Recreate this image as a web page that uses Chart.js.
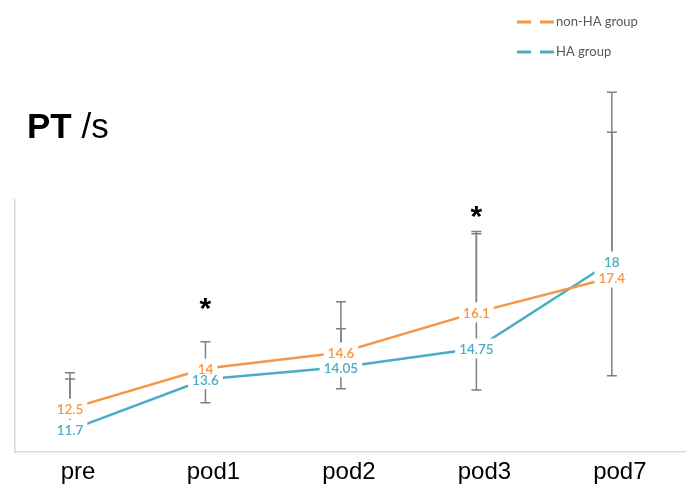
<!DOCTYPE html>
<html>
<head>
<meta charset="utf-8">
<script src="https://cdn.jsdelivr.net/npm/chart.js@4/dist/chart.umd.min.js"></script>
<style>
  html, body { margin: 0; padding: 0; background: #fff; }
  #wrap { width: 688px; height: 495px; }
</style>
</head>
<body>
<div id="wrap"><canvas id="c" width="688" height="495"></canvas></div>
<script>
// Prothrombin time (s) by time point
const categories = ['pre', 'pod1', 'pod2', 'pod3', 'pod7'];
const nonHA = [12.5, 14, 14.6, 16.1, 17.4];
const HA = [11.7, 13.6, 14.05, 14.75, 18];

// Error bar extents above / below each mean
const nonHAErrUp   = [1.34, 1.0, 1.9, 3.02, 5.43];
const nonHAErrDown = [0, 0, 0, 0, 3.67];
const HAErrUp      = [1.91, 0, 1.44, 4.29, 6.33];
const HAErrDown    = [0, 0.88, 0.81, 1.55, 0];

// Significance markers and the level they sit at
const sigMarks  = ['', '*', '', '*', ''];
const sigLevels = [null, 16.42, null, 19.87, null];

const ORANGE = '#F79646';
const BLUE = '#4BACC6';
const BAR_GREY = '#808080';
const LABEL_FONT = '600 13.5px Lato, "Open Sans", sans-serif';

const toPoints = arr => arr.map((v, i) => ({ x: i, y: v }));

// Grey error bars with caps, drawn beneath the lines
const errorBars = {
  id: 'errorBars',
  beforeDatasetsDraw(chart) {
    const { ctx, scales: { x, y } } = chart;
    ctx.save();
    ctx.strokeStyle = BAR_GREY;
    ctx.lineWidth = 1.5;
    chart.data.datasets.forEach(ds => {
      ds.data.forEach((p, i) => {
        const px = x.getPixelForValue(p.x);
        const ends = [];
        if (ds.errUp[i]) ends.push(p.y + ds.errUp[i]);
        if (ds.errDown[i]) ends.push(p.y - ds.errDown[i]);
        ends.forEach(v => {
          const y0 = y.getPixelForValue(p.y);
          const y1 = y.getPixelForValue(v);
          ctx.beginPath();
          ctx.moveTo(px, y0);
          ctx.lineTo(px, y1);
          ctx.moveTo(px - 5, y1);
          ctx.lineTo(px + 5, y1);
          ctx.stroke();
        });
      });
    });
    ctx.restore();
  }
};

// Value labels on white boxes, then significance stars
const valueLabels = {
  id: 'valueLabels',
  afterDatasetsDraw(chart) {
    const { ctx, scales: { x, y } } = chart;
    ctx.save();
    ctx.font = LABEL_FONT;
    ctx.textAlign = 'center';
    ctx.textBaseline = 'middle';
    const items = [];
    chart.data.datasets.forEach((ds, di) => {
      chart.getDatasetMeta(di).data.forEach((el, i) => {
        const txt = String(ds.data[i].y);
        items.push({ txt, x: el.x, y: el.y, color: ds.borderColor, w: ctx.measureText(txt).width });
      });
    });
    ctx.fillStyle = '#fff';
    items.forEach(it => ctx.fillRect(it.x - it.w / 2 - 4, it.y - 10, it.w + 8, 20));
    items.forEach(it => {
      ctx.fillStyle = it.color;
      ctx.fillText(it.txt, it.x, it.y + 1);
    });

    ctx.font = 'bold 30px "Liberation Sans", Arial, sans-serif';
    ctx.fillStyle = '#000';
    ctx.textBaseline = 'alphabetic';
    sigMarks.forEach((m, i) => {
      if (!m) return;
      const mt = ctx.measureText(m);
      const cy = y.getPixelForValue(sigLevels[i]);
      const base = cy + (mt.actualBoundingBoxAscent - mt.actualBoundingBoxDescent) / 2;
      ctx.fillText(m, x.getPixelForValue(i), base);
    });
    ctx.restore();
  }
};

// Title "PT /s" and the dashed-line legend
const decorations = {
  id: 'decorations',
  afterDraw(chart) {
    const { ctx } = chart;
    ctx.save();
    ctx.fillStyle = '#000';
    ctx.textBaseline = 'alphabetic';
    ctx.textAlign = 'left';
    ctx.font = 'bold 35px "Liberation Sans", Arial, sans-serif';
    ctx.fillText('PT', 27, 138);
    const w = ctx.measureText('PT ').width;
    ctx.font = '35px "Liberation Sans", Arial, sans-serif';
    ctx.fillText('/s', 27 + w, 138);

    const entries = chart.data.datasets.map(ds => ({ label: ds.label, color: ds.borderColor }));
    ctx.font = '13px Lato, "Open Sans", sans-serif';
    ctx.textBaseline = 'middle';
    entries.forEach((e, k) => {
      const ly = 22 + k * 30;
      ctx.strokeStyle = e.color;
      ctx.lineWidth = 3;
      ctx.setLineDash([14, 9]);
      ctx.beginPath();
      ctx.moveTo(517, ly);
      ctx.lineTo(554, ly);
      ctx.stroke();
      ctx.setLineDash([]);
      ctx.fillStyle = '#595959';
      ctx.fillText(e.label, 556, ly);
    });
    ctx.restore();
  }
};

new Chart(document.getElementById('c'), {
  type: 'line',
  data: {
    datasets: [
      {
        label: 'non-HA group',
        data: toPoints(nonHA),
        errUp: nonHAErrUp,
        errDown: nonHAErrDown,
        borderColor: ORANGE,
        borderWidth: 2.5,
        pointRadius: 0,
        tension: 0
      },
      {
        label: 'HA group',
        data: toPoints(HA),
        errUp: HAErrUp,
        errDown: HAErrDown,
        borderColor: BLUE,
        borderWidth: 2.5,
        pointRadius: 0,
        tension: 0
      }
    ]
  },
  options: {
    responsive: false,
    animation: false,
    layout: { padding: { left: 15, right: 3, top: 200, bottom: 0 } },
    scales: {
      x: {
        type: 'linear',
        min: -0.406,
        max: 4.54,
        grid: { display: false, drawTicks: false },
        border: { display: true, color: '#d9d9d9', width: 1.5 },
        afterBuildTicks: s => { s.ticks = categories.map((_, i) => ({ value: i })); },
        afterFit: s => { s.height = 43; },
        ticks: {
          autoSkip: false,
          maxRotation: 0,
          padding: 6,
          labelOffset: 8,
          color: '#000',
          font: { family: '"Liberation Sans", Arial, sans-serif', size: 24 },
          callback: v => categories[v] ?? ''
        }
      },
      y: {
        min: 10.88,
        max: 20.3,
        grid: { display: false, drawTicks: false },
        border: { display: true, color: '#d9d9d9', width: 1.5 },
        ticks: { display: false },
        afterFit: s => { s.width = 0; }
      }
    },
    plugins: {
      legend: { display: false },
      tooltip: { enabled: false }
    }
  },
  plugins: [errorBars, valueLabels, decorations]
});
</script>
</body>
</html>
